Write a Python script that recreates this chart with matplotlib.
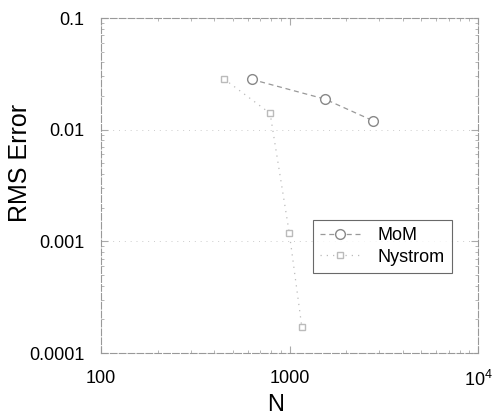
import matplotlib.pyplot as plt
from matplotlib.ticker import FixedLocator, FixedFormatter, NullFormatter

plt.rcParams['font.family'] = ['Liberation Sans', 'DejaVu Sans']
plt.rcParams['mathtext.fontset'] = 'custom'
plt.rcParams['mathtext.rm'] = 'Liberation Sans'

# valeurs
n_mom = [630, 1540, 2780]
err_mom = [0.0282, 0.0188, 0.0120]

n_nys = [450, 789, 998, 1162]
err_nys = [0.0284, 0.0140, 0.00118, 0.000172]

xticks = [100, 1000, 10000]
xlabels = ['100', '1000', r'$\mathrm{10^4}$']
yticks = [0.0001, 0.001, 0.01, 0.1]
ylabels = ['0.0001', '0.001', '0.01', '0.1']

fig = plt.figure(figsize=(4.93, 4.19), dpi=100)
ax = fig.add_axes([101 / 493, 1 - 353 / 419, 377 / 493, 335 / 419])

ax.plot(n_mom, err_mom, color='#999999', ls=(0, (4, 3)), lw=0.9,
        marker='o', mfc='white', mec='#888888', ms=7, label='MoM')
ax.plot(n_nys, err_nys, color='#bbbbbb', ls=(0, (1, 4)), lw=0.9,
        marker='s', mfc='white', mec='#bbbbbb', ms=5, label='Nystrom')

ax.set_xscale('log')
ax.set_yscale('log')
ax.set_xlim(100, 10000)
ax.set_ylim(0.0001, 0.1)

ax.xaxis.set_major_locator(FixedLocator(xticks))
ax.xaxis.set_major_formatter(FixedFormatter(xlabels))
ax.xaxis.set_minor_formatter(NullFormatter())
ax.yaxis.set_major_locator(FixedLocator(yticks))
ax.yaxis.set_major_formatter(FixedFormatter(ylabels))
ax.yaxis.set_minor_formatter(NullFormatter())

ax.tick_params(which='both', direction='in', top=True, right=True,
               color='#aaaaaa', labelsize=13)
ax.tick_params(which='major', length=5)
ax.tick_params(which='minor', length=2.5)
ax.tick_params(axis='x', pad=12)
ax.tick_params(axis='y', pad=12)

ax.grid(True, axis='y', which='major', color='#cccccc', ls=(0, (1, 5)), lw=0.7)

for s in ax.spines.values():
    s.set_color('#999999')
    s.set_linewidth(0.8)
    s.set_linestyle((0, (6, 2)))

ax.set_xlabel('N', fontsize=17, va='center')
ax.xaxis.set_label_coords(0.464, -0.155)
ax.set_ylabel('RMS Error', fontsize=18, va='center')
ax.yaxis.set_label_coords(-0.215, 0.567)

leg = ax.legend(loc='upper left', bbox_to_anchor=(0.562, 0.397),
                fontsize=13, frameon=True, fancybox=False,
                handlelength=2.2, handletextpad=1.0, borderpad=0.4,
                labelspacing=0.25, borderaxespad=0)
leg.get_frame().set_edgecolor('#444444')
leg.get_frame().set_linewidth(0.8)

fig.savefig('out.png', dpi=100)
